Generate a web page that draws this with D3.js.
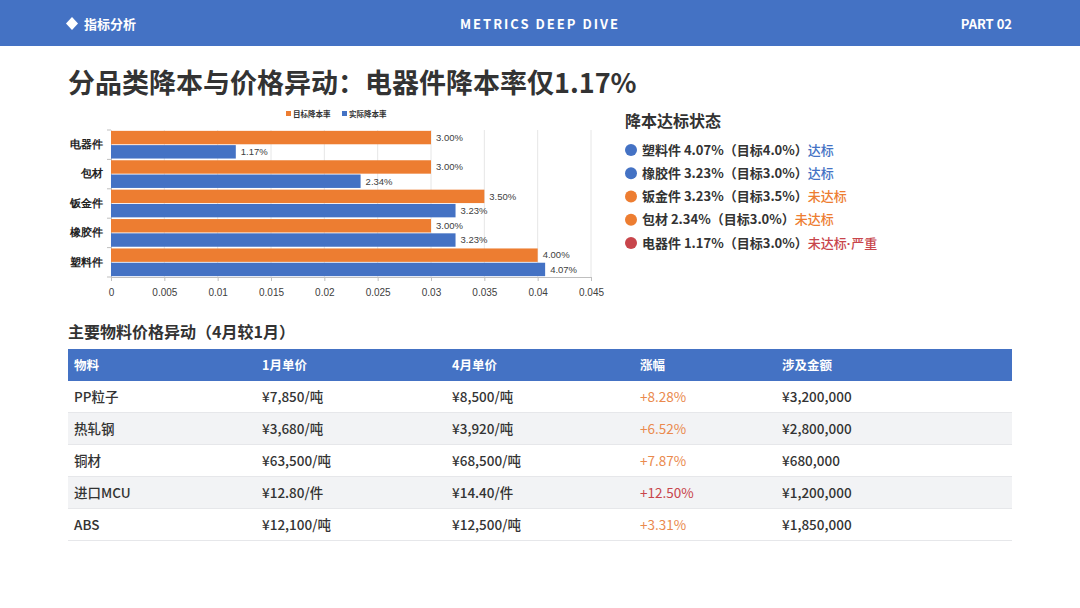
<!DOCTYPE html>
<html>
<head>
<meta charset="utf-8">
<script src="https://cdn.jsdelivr.net/npm/d3@7/dist/d3.min.js"></script>
<style>
  html, body { margin: 0; padding: 0; background: #fff; }
  svg { display: block; }
</style>
</head>
<body>
<div id="page"></div>
<script>
// ---- data ----
var categories = ['电器件', '包材', '钣金件', '橡胶件', '塑料件'];
var targetRates = [0.030, 0.030, 0.035, 0.030, 0.040];
var actualRates = [0.0117, 0.0234, 0.0323, 0.0323, 0.0407];
var seriesNames = ['目标降本率', '实际降本率'];
var xTicks = [0, 0.005, 0.01, 0.015, 0.02, 0.025, 0.03, 0.035, 0.04, 0.045];

var statusNames = ['塑料件', '橡胶件', '钣金件', '包材', '电器件'];
var statusActual = ['4.07%', '3.23%', '3.23%', '2.34%', '1.17%'];
var statusTarget = ['4.0%', '3.0%', '3.5%', '3.0%', '3.0%'];
var statusLabels = ['达标', '达标', '未达标', '未达标', '未达标·严重'];
var statusLevel = ['ok', 'ok', 'miss', 'miss', 'bad'];

var tableHeaders = ['物料', '1月单价', '4月单价', '涨幅', '涉及金额'];
var materials = ['PP粒子', '热轧钢', '铜材', '进口MCU', 'ABS'];
var janPrices = ['¥7,850/吨', '¥3,680/吨', '¥63,500/吨', '¥12.80/件', '¥12,100/吨'];
var aprPrices = ['¥8,500/吨', '¥3,920/吨', '¥68,500/吨', '¥14.40/件', '¥12,500/吨'];
var changes = ['+8.28%', '+6.52%', '+7.87%', '+12.50%', '+3.31%'];
var amounts = ['¥3,200,000', '¥2,800,000', '¥680,000', '¥1,200,000', '¥1,850,000'];

var BLUE = '#4472C4', ORANGE = '#ED7D31', RED = '#C8454B';
var FONT = '"Noto Sans CJK SC", "Noto Sans", sans-serif';
var NUMFONT = '"Liberation Sans", Arial, sans-serif';
var levelColor = { ok: BLUE, miss: ORANGE, bad: RED };

var W = 1080, H = 608;
var svg = d3.select('#page').append('svg').attr('width', W).attr('height', H)
  .style('font-family', FONT);

// ---- top band ----
svg.append('rect').attr('x', 0).attr('y', 0).attr('width', W).attr('height', 46).attr('fill', BLUE);
svg.append('path').attr('d', 'M72,17 L78,23.5 L72,30 L66,23.5 Z').attr('fill', '#fff');
svg.append('text').attr('x', 84).attr('y', 29).attr('fill', '#fff')
  .attr('font-size', '13px').attr('font-weight', 700).text('指标分析');
svg.append('text').attr('x', 540).attr('y', 29).attr('fill', '#fff').attr('text-anchor', 'middle')
  .attr('font-size', '13px').attr('font-weight', 700).attr('letter-spacing', '2px').text('METRICS DEEP DIVE');
svg.append('text').attr('x', 1012).attr('y', 29).attr('fill', '#fff').attr('text-anchor', 'end')
  .attr('font-size', '13px').attr('font-weight', 700).text('PART 02');

// ---- title ----
svg.append('text').attr('x', 68).attr('y', 93).attr('fill', '#333')
  .attr('font-size', '27px').attr('font-weight', 700).text('分品类降本与价格异动：电器件降本率仅1.17%');

// ---- bar chart ----
var plot = { left: 111, right: 591, top: 130, bottom: 277 };
var x = d3.scaleLinear().domain([0, 0.045]).range([plot.left, plot.right]);
var y = d3.scaleBand().domain(categories).range([plot.top, plot.bottom]).paddingInner(0).paddingOuter(0);
var inner = d3.scaleBand().domain(seriesNames).range([0, y.bandwidth()]).padding(0.06);
var chart = svg.append('g');

// gridlines
chart.append('g').selectAll('line').data(xTicks.slice(1)).join('line')
  .attr('x1', function(d) { return x(d); }).attr('x2', function(d) { return x(d); })
  .attr('y1', plot.top).attr('y2', plot.bottom)
  .attr('stroke', '#e6e6e6').attr('stroke-width', 1);

// x axis
chart.append('g').attr('transform', 'translate(0,' + plot.bottom + ')')
  .call(d3.axisBottom(x).tickValues(xTicks).tickSize(4).tickFormat(function(d) { return String(+d.toFixed(3)); }))
  .call(function(g) { g.select('.domain').attr('stroke', '#bfbfbf'); })
  .call(function(g) { g.selectAll('.tick line').attr('stroke', '#bfbfbf'); })
  .call(function(g) { g.selectAll('.tick text').attr('fill', '#404040').attr('font-size', '10px')
    .attr('font-family', NUMFONT).attr('dy', '1.2em'); });

// y axis
chart.append('g').attr('transform', 'translate(' + plot.left + ',0)')
  .call(d3.axisLeft(y).tickSize(0).tickPadding(8))
  .call(function(g) { g.select('.domain').attr('stroke', '#bfbfbf'); })
  .call(function(g) { g.selectAll('.tick text').attr('fill', '#222').attr('font-size', '10.5px').attr('font-weight', 700); });
chart.append('g').selectAll('line').data(categories.concat([null])).join('line')
  .attr('x1', plot.left - 4).attr('x2', plot.left)
  .attr('y1', function(d, i) { return plot.top + i * y.step(); })
  .attr('y2', function(d, i) { return plot.top + i * y.step(); })
  .attr('stroke', '#bfbfbf');

var rows = categories.map(function(c, i) { return { cat: c, vals: [targetRates[i], actualRates[i]] }; });
var colors = [ORANGE, BLUE];
var grp = chart.append('g').selectAll('g').data(rows).join('g')
  .attr('transform', function(d) { return 'translate(0,' + y(d.cat) + ')'; });
grp.selectAll('rect').data(function(d) { return d.vals; }).join('rect')
  .attr('x', x(0)).attr('y', function(d, i) { return inner(seriesNames[i]); })
  .attr('width', function(d) { return x(d) - x(0); }).attr('height', inner.bandwidth())
  .attr('fill', function(d, i) { return colors[i]; });
grp.selectAll('text').data(function(d) { return d.vals; }).join('text')
  .attr('x', function(d) { return x(d) + 5; })
  .attr('y', function(d, i) { return inner(seriesNames[i]) + inner.bandwidth() / 2; })
  .attr('dy', '0.35em').attr('fill', '#404040').attr('font-size', '9.5px').attr('font-family', NUMFONT)
  .text(function(d) { return (d * 100).toFixed(2) + '%'; });

// legend
var legend = svg.append('g').attr('transform', 'translate(286,114)');
var lx = 0;
seriesNames.forEach(function(n, i) {
  legend.append('rect').attr('x', lx).attr('y', -3).attr('width', 5).attr('height', 5).attr('fill', colors[i]);
  legend.append('text').attr('x', lx + 7).attr('y', 0).attr('dy', '0.35em')
    .attr('font-size', '7.5px').attr('font-weight', 700).attr('fill', '#333').text(n);
  lx += 56;
});

// ---- status panel ----
svg.append('text').attr('x', 625).attr('y', 127).attr('fill', '#333')
  .attr('font-size', '16px').attr('font-weight', 700).text('降本达标状态');
var sy = d3.scalePoint().domain(statusNames).range([150, 243]);
var items = svg.append('g').selectAll('g').data(statusNames).join('g')
  .attr('transform', function(d) { return 'translate(0,' + sy(d) + ')'; });
items.append('circle').attr('cx', 631).attr('cy', 0).attr('r', 6)
  .attr('fill', function(d, i) { return levelColor[statusLevel[i]]; });
items.append('text').attr('x', 642).attr('y', 0).attr('dy', '0.36em')
  .attr('font-size', '13px').attr('font-weight', 700).attr('fill', '#333')
  .each(function(d, i) {
    var t = d3.select(this);
    t.append('tspan').text(d + ' ' + statusActual[i] + '（目标' + statusTarget[i] + '）');
    var parts = statusLabels[i].split('·');
    var s = t.append('tspan').attr('fill', levelColor[statusLevel[i]]).attr('font-weight', 500).text(parts[0]);
    if (parts.length > 1) {
      t.append('tspan').attr('fill', levelColor[statusLevel[i]]).attr('font-family', NUMFONT).attr('font-weight', 700).text('·');
      t.append('tspan').attr('fill', levelColor[statusLevel[i]]).attr('font-weight', 500).text(parts[1]);
    }
  });

// ---- price table ----
svg.append('text').attr('x', 68).attr('y', 338).attr('fill', '#333')
  .attr('font-size', '16px').attr('font-weight', 700).text('主要物料价格异动（4月较1月）');

var colX = [74, 262, 452, 640, 782];
var tableTop = 349, headH = 32, rowH = 32, tLeft = 68, tRight = 1012;
svg.append('rect').attr('x', tLeft).attr('y', tableTop).attr('width', tRight - tLeft).attr('height', headH).attr('fill', BLUE);
svg.append('g').selectAll('text').data(tableHeaders).join('text')
  .attr('x', function(d, i) { return colX[i]; }).attr('y', tableTop + headH / 2).attr('dy', '0.36em')
  .attr('fill', '#fff').attr('font-size', '12.5px').attr('font-weight', 700).text(function(d) { return d; });

var tableRows = materials.map(function(m, i) {
  return [m, janPrices[i], aprPrices[i], changes[i], amounts[i]];
});
var ry = d3.scaleBand().domain(d3.range(materials.length)).range([tableTop + headH, tableTop + headH + rowH * materials.length]);
var tr = svg.append('g').selectAll('g').data(tableRows).join('g')
  .attr('transform', function(d, i) { return 'translate(0,' + ry(i) + ')'; });
tr.append('rect').attr('x', tLeft).attr('y', 0).attr('width', tRight - tLeft).attr('height', rowH)
  .attr('fill', function(d, i) { return i % 2 === 1 ? '#f2f3f5' : '#fff'; });
tr.append('line').attr('x1', tLeft).attr('x2', tRight).attr('y1', rowH - 0.5).attr('y2', rowH - 0.5)
  .attr('stroke', '#e6e7ea');
tr.selectAll('text').data(function(d) { return d; }).join('text')
  .attr('x', function(d, i) { return colX[i]; }).attr('y', rowH / 2).attr('dy', '0.36em')
  .attr('font-size', '13.5px')
  .attr('font-weight', function(d, i) { return i === 3 ? 400 : 500; })
  .attr('fill', function(d, i) {
    if (i !== 3) return '#333';
    return parseFloat(d) >= 10 ? RED : '#EA8A4E';
  })
  .text(function(d) { return d; });
</script>
</body>
</html>
